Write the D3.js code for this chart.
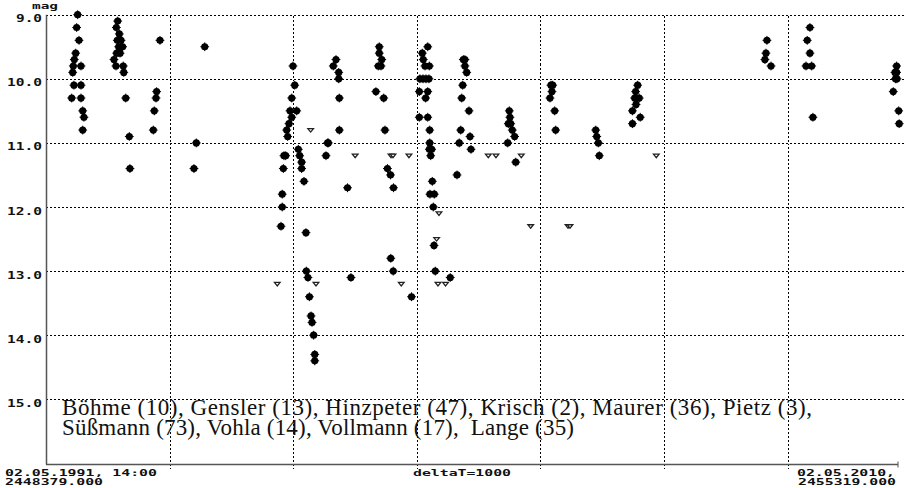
<!DOCTYPE html>
<html lang="de">
<head>
<meta charset="UTF-8">
<title>Lichtkurve</title>
<script src="https://d3js.org/d3.v7.min.js"></script>
<style>
  body { margin: 0; background: #fff; }
  svg { display: block; }
  .grid line { stroke: #000; stroke-dasharray: 2,2; stroke-width: 1; shape-rendering: crispEdges; }
  .lbl { font-family: "DejaVu Sans Mono", monospace; font-weight: bold; font-size: 10.5px; fill: #111; }
  .xlbl { font-size: 9.5px; }
  .legend { font-family: "Liberation Serif", "Times New Roman", Times, serif; font-size: 23px; fill: #111; white-space: pre; }
</style>
</head>
<body>
<script>
var W = 909, H = 488;

// y tick values (magnitudes)
var yTicks = [9, 10, 11, 12, 13, 14, 15];
// x: start / end of the time range (JD)
var jdStart = 2448379, jdEnd = 2455319;
var deltaT = 1000;
var xTicks = [2449379, 2450379, 2451379, 2452379, 2453379, 2454379];

// positive observations
var obsJD = [
  2448635, 2448627, 2448646, 2448619, 2448608, 2448600, 2448662, 2448595, 2448605, 2448662, 2448587, 2448662, 2448676, 2448686, 2448676,
  2448959, 2448948, 2448972, 2448956, 2448986, 2448967, 2448999, 2448978, 2448951, 2448929, 2448945, 2449004, 2449008, 2449024, 2449053, 2449058,
  2449301, 2449274, 2449269, 2449255, 2449247,
  2449663, 2449595, 2449576,
  2450377, 2450391, 2450367, 2450353, 2450407, 2450367, 2450345, 2450326, 2450334, 2450420, 2450304, 2450318, 2450431, 2450447, 2450447,
  2450299, 2450466, 2450290, 2450290, 2450280, 2450482, 2450485, 2450498, 2450510, 2450523, 2450531, 2450544, 2450553, 2450553,
  2450663, 2450657, 2450644, 2450725, 2450703, 2450747, 2450747, 2450752, 2450752, 2450818, 2450846,
  2451075, 2451075, 2451095, 2451067, 2451089, 2451048, 2451111, 2451121, 2451141, 2451166, 2451190, 2451168, 2451188, 2451336,
  2451467, 2451423, 2451431, 2451445, 2451480, 2451404, 2451429, 2451453, 2451477, 2451399, 2451467, 2451450, 2451399, 2451467,
  2451483, 2451483, 2451480, 2451499, 2451491, 2451504, 2451485, 2451520, 2451512, 2451518, 2451528, 2451649,
  2451755, 2451768, 2451768, 2451782, 2451750, 2451742, 2451801, 2451734, 2451809, 2451722, 2451817, 2451704,
  2452127, 2452132, 2452119, 2452138, 2452151, 2452170, 2452114, 2452179,
  2452464, 2452478, 2452472, 2452456, 2452494, 2452502,
  2452826, 2452834, 2452847, 2452855,
  2453165, 2453149, 2453141, 2453178, 2453152, 2453123, 2453186, 2453123,
  2454211, 2454203, 2454195, 2454244,
  2454559, 2454537, 2454559, 2454527, 2454573, 2454583,
  2455260, 2455247, 2455260, 2455251, 2455263, 2455233, 2455277, 2455281
];
var obsMag = [
  9.0, 9.2, 9.4, 9.6, 9.7, 9.8, 9.8, 9.9, 10.1, 10.1, 10.3, 10.3, 10.5, 10.6, 10.8,
  9.1, 9.2, 9.3, 9.4, 9.4, 9.5, 9.5, 9.6, 9.6, 9.7, 9.8, 9.8, 9.9, 10.3, 10.9, 11.4,
  9.4, 10.2, 10.3, 10.5, 10.8,
  9.5, 11.0, 11.4,
  9.8, 10.1, 10.3, 10.5, 10.5, 10.6, 10.7, 10.8, 10.9, 11.1, 11.2, 11.2, 11.2, 11.3, 11.4,
  11.4, 11.6, 11.8, 12.0, 12.3, 12.4, 13.0, 13.1, 13.4, 13.7, 13.8, 14.0, 14.3, 14.4,
  11.0, 11.0, 11.2, 9.7, 9.8, 9.9, 10.0, 10.3, 10.8, 11.7, 13.1,
  9.5, 9.6, 9.7, 9.8, 9.8, 10.2, 10.3, 10.8, 11.4, 11.5, 11.7, 12.8, 13.0, 13.4,
  9.5, 9.6, 9.7, 9.8, 9.8, 10.0, 10.0, 10.0, 10.0, 10.2, 10.2, 10.3, 10.6, 10.6,
  10.8, 11.0, 11.1, 11.1, 11.2, 11.6, 11.8, 11.8, 12.0, 12.6, 13.0, 13.1,
  9.7, 9.7, 9.8, 9.9, 10.1, 10.3, 10.5, 10.8, 10.9, 11.0, 11.1, 11.5,
  10.5, 10.6, 10.7, 10.7, 10.8, 10.9, 11.0, 11.3,
  10.1, 10.1, 10.2, 10.3, 10.5, 10.8,
  10.8, 10.9, 11.0, 11.2,
  10.1, 10.2, 10.3, 10.3, 10.4, 10.5, 10.6, 10.7,
  9.4, 9.6, 9.7, 9.8,
  9.2, 9.4, 9.6, 9.8, 9.8, 10.6,
  9.8, 9.9, 9.9, 10.0, 10.0, 10.2, 10.5, 10.7
];

// "fainter than" estimates
var limJD = [2450250, 2450520, 2450563, 2450880, 2451170, 2451186, 2451315, 2451253, 2451558, 2451539, 2451550, 2451611,
             2451957, 2452019, 2452224, 2452300, 2452602, 2452618, 2453316];
var limMag = [13.2, 10.8, 13.2, 11.2, 11.2, 11.2, 11.2, 13.2, 12.1, 12.5, 13.2, 13.2,
              11.2, 11.2, 11.2, 12.3, 12.3, 12.3, 11.2];

var legendLines = [
  "Böhme (10), Gensler (13), Hinzpeter (47), Krisch (2), Maurer (36), Pietz (3),",
  "Süßmann (73), Vohla (14), Vollmann (17),  Lange (35)"
];

var left = 46, baseY = 464.5, gridRight = 905;

var x = d3.scaleLinear().domain([jdStart, jdEnd]).range([left, 903.9]);
var y = d3.scaleLinear().domain([9, 15]).range([14.7, 399.3]);

var svg = d3.select("body").append("svg")
    .attr("width", W)
    .attr("height", H);

// horizontal grid, snapped to pixels
var hg = svg.append("g").attr("class", "grid");
hg.selectAll("line")
    .data(yTicks)
    .enter().append("line")
    .attr("x1", left).attr("x2", gridRight)
    .attr("y1", function(d) { return Math.round(y(d)) + 0.5; })
    .attr("y2", function(d) { return Math.round(y(d)) + 0.5; });

// vertical grid (every deltaT days)
var vg = svg.append("g").attr("class", "grid");
vg.selectAll("line")
    .data(xTicks)
    .enter().append("line")
    .attr("x1", function(d) { return Math.round(x(d)) + 0.5; })
    .attr("x2", function(d) { return Math.round(x(d)) + 0.5; })
    .attr("y1", Math.round(y(9)) + 0.5)
    .attr("y2", baseY + 4);

// axis lines
svg.append("line")
    .attr("x1", left + 0.5).attr("x2", left + 0.5)
    .attr("y1", y(9)).attr("y2", baseY)
    .attr("stroke", "#555").attr("stroke-width", 1.5);
svg.append("line")
    .attr("x1", left).attr("x2", 898)
    .attr("y1", baseY).attr("y2", baseY)
    .attr("stroke", "#555").attr("stroke-width", 1.5);
svg.append("line")
    .attr("x1", 898).attr("x2", 898)
    .attr("y1", baseY - 3).attr("y2", baseY + 3)
    .attr("stroke", "#555").attr("stroke-width", 1);

// y labels
svg.selectAll(".ylbl")
    .data(yTicks)
    .enter().append("text")
    .attr("class", "lbl ylbl")
    .attr("x", 42)
    .attr("y", function(d) { return y(d) + 7.5; })
    .attr("text-anchor", "end")
    .attr("textLength", function(d) { return d3.format(".1f")(d).length * 9 - 1; })
    .attr("lengthAdjust", "spacingAndGlyphs")
    .text(function(d) { return d3.format(".1f")(d); });

svg.append("text")
    .attr("class", "lbl")
    .attr("x", 32).attr("y", 9)
    .attr("textLength", 26).attr("lengthAdjust", "spacingAndGlyphs")
    .style("font-size", "8px")
    .text("mag");

// x labels
var xl = [
  {t: "02.05.1991, 14:00", x: 5, y: 475.5, a: "start"},
  {t: jdStart.toFixed(3), x: 5, y: 485, a: "start"},
  {t: "deltaT=" + deltaT, x: 413, y: 475.5, a: "start"},
  {t: "02.05.2010,", x: 895, y: 475.5, a: "end"},
  {t: jdEnd.toFixed(3), x: 896, y: 485, a: "end"}
];
svg.selectAll(".xlbl")
    .data(xl)
    .enter().append("text")
    .attr("class", "lbl xlbl")
    .attr("x", function(d) { return d.x; })
    .attr("y", function(d) { return d.y; })
    .attr("text-anchor", function(d) { return d.a; })
    .attr("textLength", function(d) { return d.t.length * 9 - 1; })
    .attr("lengthAdjust", "spacingAndGlyphs")
    .text(function(d) { return d.t; });

// legend
svg.selectAll(".legend")
    .data(legendLines)
    .enter().append("text")
    .attr("class", "legend")
    .attr("font-family", "Liberation Serif")
    .attr("x", 62)
    .attr("y", function(d, i) { return 415 + i * 20; })
    .attr("textLength", function(d, i) { return i === 0 ? 750 : 512; })
    .attr("lengthAdjust", "spacing")
    .text(function(d) { return d; });

// observations
var obs = obsJD.map(function(d, i) { return {jd: d, mag: obsMag[i]}; });
var lim = limJD.map(function(d, i) { return {jd: d, mag: limMag[i]}; });

var dots = svg.append("g").selectAll(".dot")
    .data(obs)
    .enter().append("g")
    .attr("transform", function(d) { return "translate(" + x(d.jd) + "," + y(d.mag) + ")"; });
dots.append("circle").attr("r", 3.6).attr("fill", "#000");
dots.append("path").attr("d", "M-4.4,0H4.4M0,-4.4V4.4").attr("stroke", "#000").attr("stroke-width", 1);

svg.append("g").selectAll(".lim")
    .data(lim)
    .enter().append("path")
    .attr("transform", function(d) { return "translate(" + x(d.jd) + "," + y(d.mag) + ")"; })
    .attr("d", "M-2.8,-1.5L2.8,-1.5L0,2Z")
    .attr("fill", "#fff")
    .attr("stroke", "#222")
    .attr("stroke-width", 1.3);
</script>
</body>
</html>
